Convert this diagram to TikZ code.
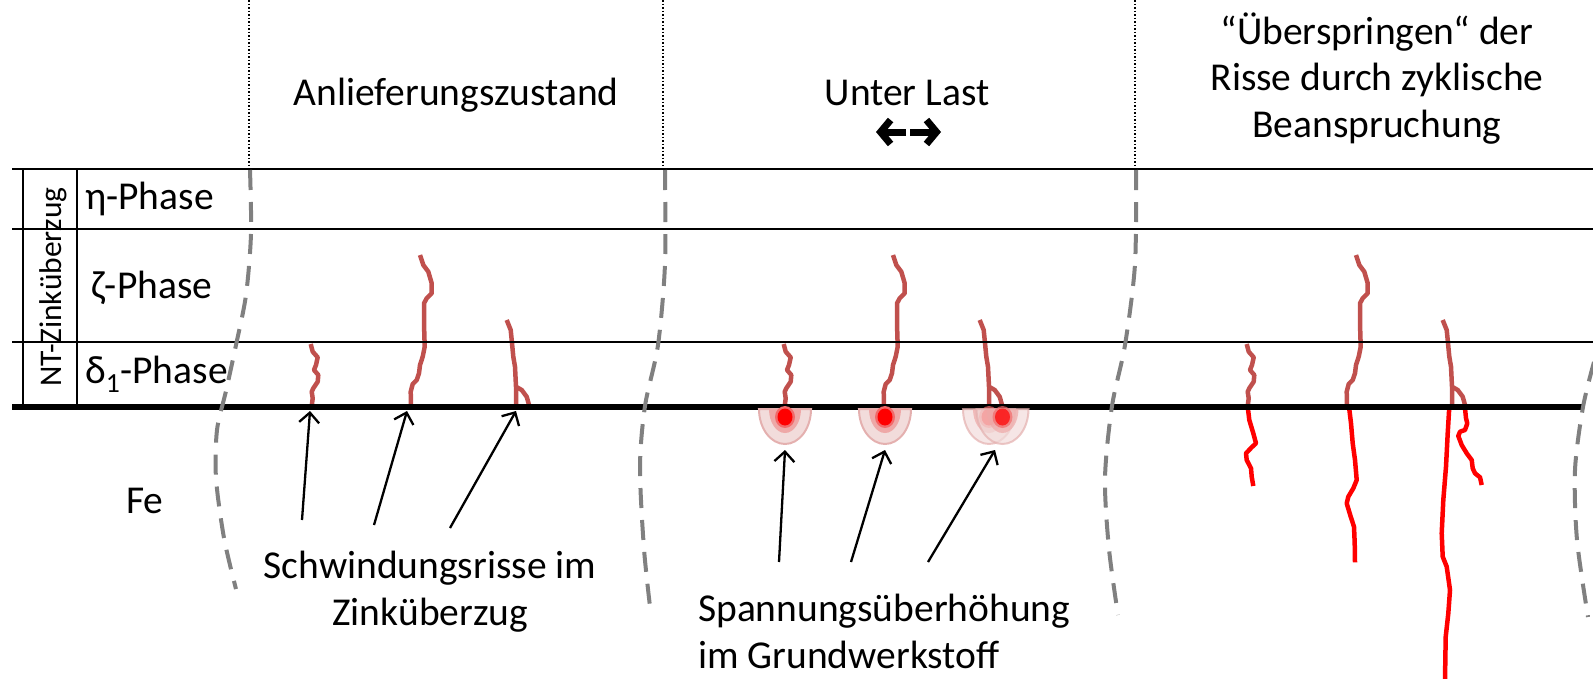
\documentclass[tikz,border=0pt]{standalone}
\usepackage{fontspec}
\setmainfont{Carlito}
\usetikzlibrary{arrows.meta}
\definecolor{crackbrown}{HTML}{C0504D}
\definecolor{zoneedge}{HTML}{E4B0AF}
\definecolor{zoneouter}{HTML}{F2DCDB}
\definecolor{zonemid}{HTML}{EEA8A7}
\definecolor{zonecore}{HTML}{F26A6A}
\definecolor{bordergray}{HTML}{808080}

\begin{document}
\begin{tikzpicture}[x=1pt,y=-1pt,
  txt/.style={font=\fontsize{39.5}{46.5}\selectfont, inner sep=0pt, anchor=base},
  layerline/.style={line width=2pt},
  interface/.style={line width=6pt},
  divider/.style={dotted, line width=1.5pt},
  boundary/.style={bordergray, line width=4pt, dash pattern=on 20pt off 12pt},
  coatcrack/.style={crackbrown, line width=4.5pt, line join=round},
  steelcrack/.style={red, line width=4.5pt, line join=round},
  pointer/.style={line width=2.3pt, -{Straight Barb[length=10pt,width=20pt]}},
  loadarrow/.style={line width=7pt, -{Straight Barb[length=10pt,width=24pt]}},
  cracks/.pic={
    \draw[coatcrack] (310.7,344) -- (312.7,351.7) -- (317.7,357.3) -- (316,365) -- (314,370)
      -- (318.3,375) -- (317.7,381.7) -- (313.3,388.3) -- (311.7,391.7) -- (312.7,398.3) -- (311.7,406);
    \draw[coatcrack] (420,255) -- (423.3,265) -- (428.3,271.7) -- (431.7,283.3) -- (431.7,293.3)
      -- (426.7,298.3) -- (424,303.3) -- (424,323.3) -- (424.7,346.7) -- (422.7,356.7) -- (420,365)
      -- (419,373.3) -- (416.7,380) -- (412.7,384) -- (410.7,391.7) -- (411,406);
    \draw[coatcrack] (506.7,320) -- (510.7,330) -- (511.7,340) -- (513.3,356.7) -- (515,366.7)
      -- (516,386.7) -- (516,406);
    \draw[coatcrack] (516,386.7) -- (521.7,390) -- (526.7,396.7) -- (529.3,406);
  },
  halo/.pic={
    \fill[zoneouter, draw=zoneedge, line width=2pt] (26,0) arc[start angle=0, end angle=180, x radius=26, y radius=35] -- cycle;
    \fill[zonemid] (16,0) arc[start angle=0, end angle=180, x radius=16, y radius=24] -- cycle;
    \fill[zonecore] (0,8) ellipse[x radius=10, y radius=11];
    \fill[red] (0,8) ellipse[x radius=7.5, y radius=8.5];
  }
]
\useasboundingbox (0,0) rectangle (1593,678);

% dotted column separators
\foreach \xx in {249,663,1135} \draw[divider] (\xx,0) -- (\xx,169);

% column titles
\node[txt] (title1) at (456,105) {Anlieferungszustand};
\node[txt] (title2) at (907,105) {Unter Last};
\node[txt, align=center] (title3) at (1377,137) {“Überspringen“ der\\Risse durch zyklische\\Beanspruchung};

% load symbol
\coordinate (ll0) at (906,132); \coordinate (ll1) at (876,132);
\coordinate (lr0) at (910,132); \coordinate (lr1) at (941,132);
\draw[loadarrow] (ll0) -- (ll1);
\draw[loadarrow] (lr0) -- (lr1);

% cracks in the coating (drawn below the interface line)
\pic at (0,0) {cracks};
\pic at (473,0) {cracks};
\pic at (936,0) {cracks};

% cracks running into the steel
\draw[steelcrack] (1247.7,406.7) -- (1249.3,420) -- (1253.3,433.3) -- (1256,443.3) -- (1251.7,447.3)
  -- (1246,453.3) -- (1246.7,460) -- (1251,468.3) -- (1251.7,476.7) -- (1253.3,486);
\draw[steelcrack] (1349,406.7) -- (1351,423.3) -- (1352.7,443.3) -- (1355,460) -- (1356.7,480)
  -- (1353.3,488.3) -- (1348.3,496.7) -- (1346.7,503.3) -- (1350.7,516.7) -- (1354,526.7)
  -- (1354.7,543.3) -- (1355,562.3);
\draw[steelcrack] (1449.3,406.7) -- (1447.7,433.3) -- (1446,466.7) -- (1443.3,500) -- (1441.7,533.3)
  -- (1442.7,556.7) -- (1446.7,566.7) -- (1450,590) -- (1448.3,613.3) -- (1445.7,636.7) -- (1445,680);
\draw[steelcrack] (1465,408.3) -- (1466,418.3) -- (1467.3,423.3) -- (1465,430) -- (1460,431.7)
  -- (1458.3,436) -- (1461.7,445) -- (1466.7,453.3) -- (1471.7,460) -- (1472.7,468.3) -- (1475,473.3)
  -- (1480,477.3) -- (1481.7,485);

% layer boundaries
\draw[layerline] (12,169) -- (1593,169);
\draw[layerline] (12,229) -- (1593,229);
\draw[layerline] (12,342) -- (1593,342);
\draw[layerline] (23,169) -- (23,407);
\draw[layerline] (77,169) -- (77,407);
\draw[interface] (12,407) -- (1584,407);

% stress concentrations below the crack tips
\pic at (785,409) {halo};
\pic at (885,409) {halo};
\begin{scope}[opacity=0.7]
  \pic at (989,409) {halo};
  \pic at (1002.5,409) {halo};
\end{scope}

% layer labels
\node[txt, font=\fontsize{31.5}{38}\selectfont, rotate=90, anchor=center] (coat) at (53,287) {NT-Zinküberzug};
\node[txt, anchor=base west] (eta) at (85,209) {η-Phase};
\node[txt, anchor=base west] (zeta) at (91,298) {ζ-Phase};
\node[txt, anchor=base west] (delta) at (85,383) {δ\textsubscript{1}-Phase};
\node[txt, anchor=base west] (fe) at (126,513) {Fe};

% panel boundaries
\draw[boundary] plot[smooth] coordinates {(250,170) (251,234) (246,295) (236,345) (226,391) (217,430) (216,478) (224,538) (236,589)};
\draw[boundary] plot[smooth] coordinates {(665,170) (665,264) (658,345) (645,406) (640,467) (644,549) (651,615)};
\draw[boundary] plot[smooth] coordinates {(1136,170) (1135,264) (1125,345) (1112,406) (1105,478) (1109,549) (1118,615)};
\draw[boundary] plot[smooth] coordinates {(1594,362) (1583,407) (1575,470) (1577,540) (1588,617)};

% captions and pointers
\node[txt, align=center] (shrink) at (430,625) {Schwindungsrisse im\\Zinküberzug};
\node[txt, align=left, anchor=base west] (stress) at (698,668) {Spannungsüberhöhung\\im Grundwerkstoff};

\coordinate (pa1) at (302,520); \coordinate (ta1) at (310,411);
\coordinate (pa2) at (374,525); \coordinate (ta2) at (407,411);
\coordinate (pa3) at (450,528); \coordinate (ta3) at (516,411);
\draw[pointer] (pa1) -- (ta1);
\draw[pointer] (pa2) -- (ta2);
\draw[pointer] (pa3) -- (ta3);

\coordinate (pb1) at (779,562); \coordinate (tb1) at (785,450);
\coordinate (pb2) at (851,562); \coordinate (tb2) at (885,450);
\coordinate (pb3) at (928,562); \coordinate (tb3) at (995,450);
\draw[pointer] (pb1) -- (tb1);
\draw[pointer] (pb2) -- (tb2);
\draw[pointer] (pb3) -- (tb3);
\end{tikzpicture}
\end{document}
